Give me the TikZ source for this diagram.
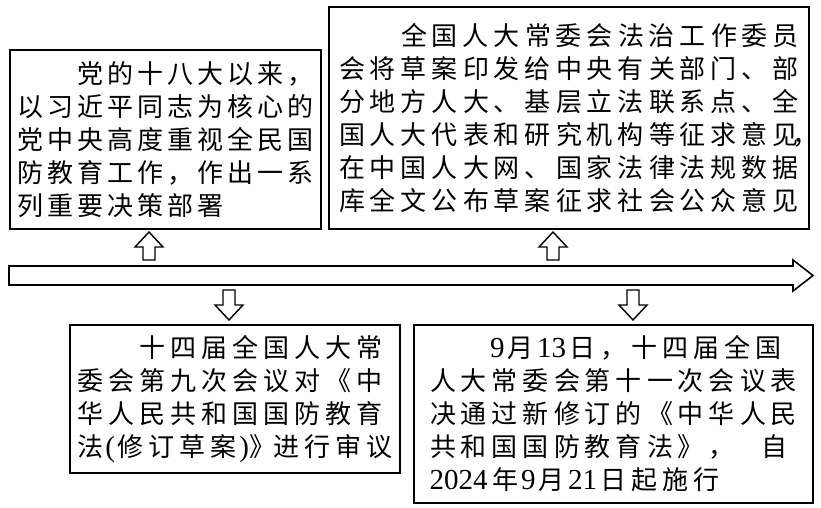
\documentclass[tikz,border=0pt]{standalone}
\usepackage{fontspec}
\newfontfamily\cjk{Noto Sans CJK SC}
\newfontfamily\lat{Liberation Serif}
\newlength\cw
\def\cellsEnd{CELLSEND}
\def\CW{CELLSW}
\def\CL{CELLSL}
\newcommand\cells[1]{\cellsA#1\cellsEnd}
\def\cellsA#1{\ifx\cellsEnd#1\let\cellsNext\relax\else\ifx\CW#1\let\cellsNext\cellsW\else\ifx\CL#1\let\cellsNext\cellsL\else\makebox[\cw]{#1}\let\cellsNext\cellsA\fi\fi\fi\cellsNext}
\def\cellsW#1#2{\makebox[#1\cw]{#2}\cellsA}
\def\cellsL#1#2{\makebox[#1\cw][l]{#2}\cellsA}
\newcommand\dg[1]{{\lat\fontsize{29}{33}\selectfont #1}}
\begin{document}
\begin{tikzpicture}[x=1pt,y=-1pt,line join=miter]
\tikzset{
  box/.style={draw, line width=1.6pt, inner sep=0pt, align=left, text=black},
  boxfont/.style={font={\cjk\fontsize{26}{33}\selectfont\setlength\cw{#1}}},
  hollow/.style={draw, line width=1.4pt, fill=white},
  uparr/.pic={\draw[hollow] (0,0) -- (14,15) -- (6,15) -- (6,28) -- (-6,28) -- (-6,15) -- (-14,15) -- cycle;},
  downarr/.pic={\draw[hollow] (0,0) -- (14,-15) -- (6,-15) -- (6,-30) -- (-6,-30) -- (-6,-15) -- (-14,-15) -- cycle;}
}
\useasboundingbox (0,0) rectangle (821,508);
\fill[white] (0,0) rectangle (821,508);

\node[box, boxfont=30pt, minimum width=311pt, minimum height=179pt] (A) at (165.5,139.5) {%
\cells{{}{}党的十八大以来，}\\
\cells{以习近平同志为核心的}\\
\cells{党中央高度重视全民国}\\
\cells{防教育工作，作出一系}\\
\cells{列重要决策部署}};

\node[box, boxfont=31pt, minimum width=480pt, minimum height=222pt] (B) at (569,118) {%
\cells{{}{}全国人大常委会法治工作委员}\\
\cells{会将草案印发给中央有关部门、部}\\
\cells{分地方人大、基层立法联系点、全}\\
\cells{国人大代表和研究机构等征求意见\CL{0}{\hspace*{-9pt}，}}\\
\cells{在中国人大网、国家法律法规数据}\\
\cells{库全文公布草案征求社会公众意见}};

\node[box, boxfont=31pt, minimum width=330pt, minimum height=148pt] (C) at (235,399) {%
\cells{{}{}十四届全国人大常}\\
\cells{委会第九次会议对《中}\\
\cells{华人民共和国国防教育}\\
\cells{法\CW{.3}{\dg{(}}修订草案\CW{.35}{\dg{)}}\CW{.7}{\hspace*{4pt}》}进行审议}};

\node[box, boxfont=31pt, minimum width=399pt, minimum height=178pt] (D) at (613.5,414) {%
\cells{{}{}\CW{.5}{\dg{9}}月{\dg{13}}日，十四届全国}\\
\cells{人大常委会第十一次会议表}\\
\cells{决通过新修订的《中华人民}\\
\cells{共和国国防教育法》，\CW{.7}{}自}\\
\cells{\CW{2}{\dg{2024}}年\CW{.5}{\dg{9}}月{\dg{21}}日起施行}};

% timeline
\coordinate (t0) at (9,266);
\coordinate (t1) at (793,266);
\coordinate (tip) at (813,275.5);
\draw[hollow, line width=1.6pt] (t0) -- (t1) -- (793,260) -- (tip) -- (793,291) -- (793,285) -- (9,285) -- cycle;

\pic (uA) at (149,232) {uparr};
\pic (uB) at (553,232) {uparr};
\pic (dC) at (229,320) {downarr};
\pic (dD) at (633,320) {downarr};
\end{tikzpicture}
\end{document}
